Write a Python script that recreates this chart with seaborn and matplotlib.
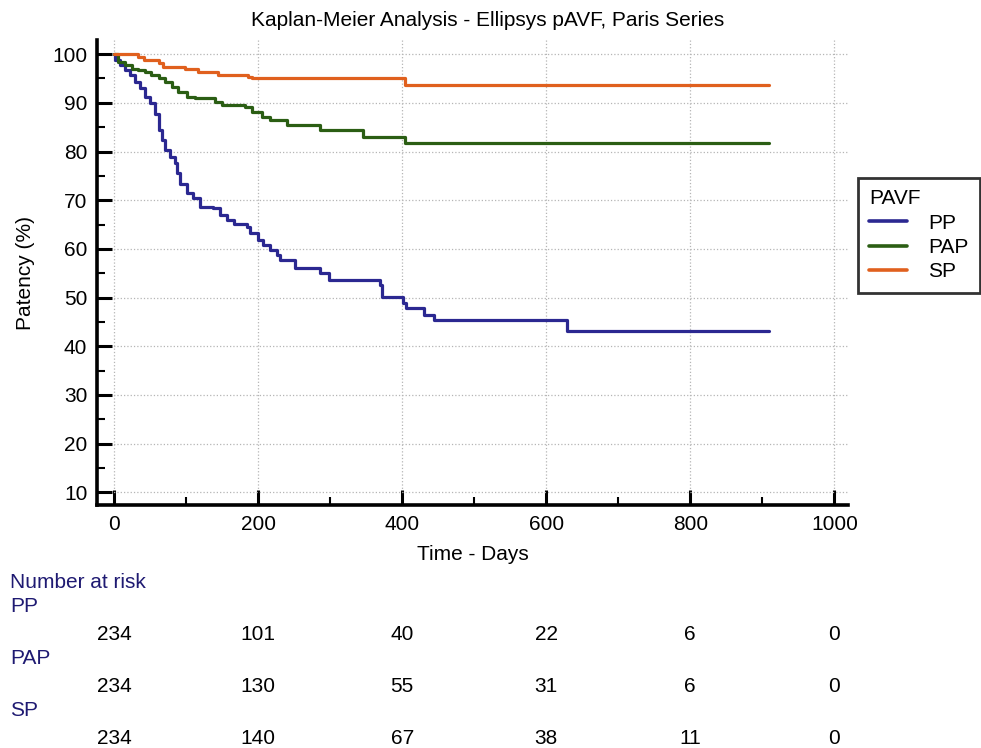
import pandas as pd
import matplotlib.pyplot as plt
import matplotlib.transforms as mtransforms
from matplotlib.lines import Line2D
from matplotlib.ticker import MultipleLocator
import seaborn as sns

# Kaplan-Meier step data (days, patency %)
pp_days = [0, 1, 8, 15, 22, 29, 36, 43, 50, 57, 62, 66, 71, 78, 85, 87, 92, 101, 110, 119,
           138, 147, 157, 166, 184, 189, 200, 207, 217, 226, 231, 251, 286, 298, 369, 372,
           401, 406, 430, 444, 629, 910]
pp_val = [100, 98.8, 97.7, 96.7, 95.7, 94.3, 93.0, 91.2, 89.9, 87.8, 84.4, 82.3, 80.3, 78.9,
          77.6, 75.5, 73.4, 71.4, 70.4, 68.6, 68.3, 66.9, 65.9, 65.2, 64.5, 63.2, 61.8, 60.8,
          59.8, 58.7, 57.7, 56.0, 55.0, 53.6, 52.6, 50.2, 48.8, 47.8, 46.4, 45.4, 43.2, 43.2]

pap_days = [0, 6, 15, 25, 34, 43, 52, 62, 71, 80, 89, 101, 112, 140, 150, 182, 191, 205,
            217, 240, 286, 346, 404, 910]
pap_val = [100, 98.4, 97.7, 97.0, 96.7, 96.4, 95.7, 95.0, 94.3, 93.3, 92.3, 91.2, 90.9, 90.2,
           89.5, 89.2, 88.2, 87.1, 86.4, 85.4, 84.4, 83.0, 81.7, 81.7]

sp_days = [0, 34, 41, 62, 68, 99, 117, 145, 186, 191, 404, 910]
sp_val = [100, 99.5, 98.8, 98.1, 97.4, 97.0, 96.4, 95.7, 95.3, 95.0, 93.6, 93.6]

# number at risk table
risk_times = [0, 200, 400, 600, 800, 1000]
pp_risk = [234, 101, 40, 22, 6, 0]
pap_risk = [234, 130, 55, 31, 6, 0]
sp_risk = [234, 140, 67, 38, 11, 0]

groups = ['PP', 'PAP', 'SP']
colors = {'PP': '#2b2891', 'PAP': '#2b5e14', 'SP': '#e0601e'}
navy = '#1f1a72'

df = pd.concat([
    pd.DataFrame({'day': pp_days, 'patency': pp_val, 'group': 'PP'}),
    pd.DataFrame({'day': pap_days, 'patency': pap_val, 'group': 'PAP'}),
    pd.DataFrame({'day': sp_days, 'patency': sp_val, 'group': 'SP'}),
])

sns.set_style('white')
plt.rcParams['font.family'] = ['Liberation Sans', 'DejaVu Sans']
plt.rcParams.update({'text.color': 'black', 'axes.labelcolor': 'black',
                     'xtick.color': 'black', 'ytick.color': 'black'})

fig = plt.figure(figsize=(9.81, 7.48), dpi=100)
ax = fig.add_axes([97 / 981, 1 - 505 / 748, (848 - 97) / 981, (505 - 40) / 748])

sns.lineplot(data=df, x='day', y='patency', hue='group', hue_order=groups, palette=colors,
             estimator=None, drawstyle='steps-post', linewidth=2.3, legend=False, ax=ax)

ax.set_xlim(-23.6, 1019)
ax.set_ylim(7.4, 102.9)
ax.xaxis.set_major_locator(MultipleLocator(200))
ax.xaxis.set_minor_locator(MultipleLocator(100))
ax.set_yticks(range(10, 101, 10))
ax.yaxis.set_minor_locator(MultipleLocator(5))
ax.tick_params(which='major', direction='in', length=11, width=2.2, labelsize=15, pad=7, colors='black')
ax.tick_params(which='minor', direction='in', length=6, width=1.5, colors='black')
ax.tick_params(axis='y', which='both', left=True)
ax.tick_params(axis='x', which='both', bottom=True)
ax.grid(True, which='major', linestyle=':', color='#b5b5b5', linewidth=0.9)

for side in ['top', 'right']:
    ax.spines[side].set_visible(False)
for side in ['left', 'bottom']:
    ax.spines[side].set_linewidth(2.6)
    ax.spines[side].set_color('black')

ax.set_xlabel('Time - Days', fontsize=15, labelpad=8)
ax.set_ylabel('Patency (%)', fontsize=15, labelpad=12)
fig.text(0.497, 1 - 20 / 748, 'Kaplan-Meier Analysis - Ellipsys pAVF, Paris Series',
         ha='center', va='center', fontsize=15)

handles = [Line2D([], [], color=colors[g], lw=2.6) for g in groups]
leg = fig.legend(handles, groups, title='PAVF', loc='upper left',
                 bbox_to_anchor=(858 / 981, 1 - 178 / 748), borderaxespad=0,
                 fontsize=15, title_fontsize=15, frameon=True, fancybox=False,
                 edgecolor='black', handlelength=1.8, handletextpad=1.0,
                 labelspacing=0.25, borderpad=0.55, alignment='left')
leg.get_frame().set_linewidth(2.0)

# number at risk table under the axis
trans = mtransforms.blended_transform_factory(ax.transData, fig.transFigure)
fig.text(10 / 981, 1 - 582 / 748, 'Number at risk', color=navy, fontsize=15, va='center')
rows = [('PP', pp_risk, 607, 634), ('PAP', pap_risk, 659, 686), ('SP', sp_risk, 710, 738)]
for name, counts, ylab, ynum in rows:
    fig.text(10 / 981, 1 - ylab / 748, name, color=navy, fontsize=15, va='center')
    for t, n in zip(risk_times, counts):
        ax.text(t, 1 - ynum / 748, str(n), transform=trans, ha='center', va='center',
                fontsize=15, color='black', clip_on=False)

fig.savefig('out.png', dpi=100)
